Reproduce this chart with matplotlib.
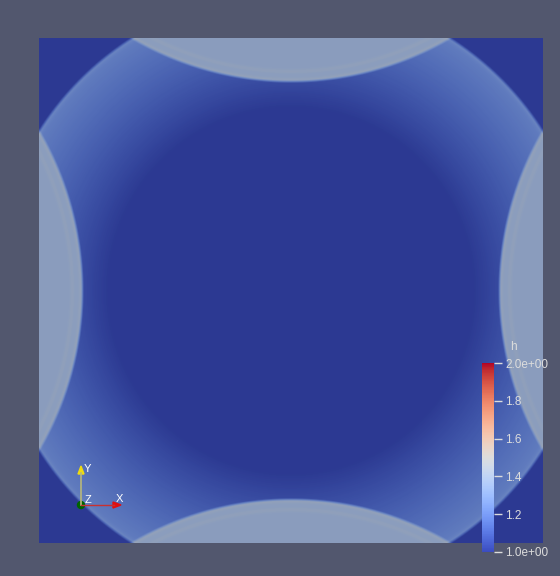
import numpy as np
import matplotlib.pyplot as plt
from matplotlib.colors import Normalize
from matplotlib.cm import ScalarMappable
from matplotlib.patches import Rectangle, Circle, Polygon

# wave field parameters (domain is [-1, 1] x [-1, 1])
front_radius = 1.183      # radius of the main expanding front
inner_radius = 0.72       # inside this radius the surface is back at rest
wall_radius = 1.252       # radius of the fronts coming back from the walls
wall_offset = 2.081       # distance of their centres from the middle
h_rest = 1.0
h_front = 1.22            # height just behind the main front
h_cross = 1.37            # height where main and returning fronts overlap
wall_dirs = [(1, 0), (-1, 0), (0, 1), (0, -1)]

# colour bar
h_min, h_max = 1.0, 2.0
cbar_ticks = [1.0, 1.2, 1.4, 1.6, 1.8, 2.0]
cbar_labels = ["1.0e+00", "1.2", "1.4", "1.6", "1.8", "2.0e+00"]

bg = "#52576e"
txt = "#dcdcdc"

n = 700
xs = np.linspace(-1, 1, n)
X, Y = np.meshgrid(xs, xs)
edge = 0.012

def inside(r, radius):
    return np.clip((radius - r) / edge + 0.5, 0, 1)

r0 = np.hypot(X, Y)
s0 = inside(r0, front_radius)
s_wall = np.zeros_like(X)
d_wall = np.full_like(X, 10.0)
d_inner = np.full_like(X, 10.0)
for dx, dy in wall_dirs:
    rw = np.hypot(X - dx * wall_offset, Y - dy * wall_offset)
    s_wall = np.maximum(s_wall, inside(rw, wall_radius))
    d_wall = np.minimum(d_wall, np.abs(rw - wall_radius))
    d_inner = np.minimum(d_inner, np.abs(rw - (wall_radius - 0.04)))

lens = s0 * s_wall
ramp = np.clip((r0 - inner_radius) / (front_radius - inner_radius), 0, 1)
h = h_rest + s0 * (1 - s_wall) * (h_front - h_rest) * ramp + lens * (h_cross - h_rest)
# thin crests at the fronts
h += 0.05 * lens * np.exp(-(d_wall / 0.012) ** 2)
h += 0.025 * lens * np.exp(-(d_inner / 0.008) ** 2)
h += 0.04 * s0 * np.exp(-((r0 - front_radius) / 0.012) ** 2)

fig = plt.figure(figsize=(5.6, 5.76), dpi=100)
fig.patch.set_facecolor(bg)

W, H = 560, 576
ax = fig.add_axes([39 / W, 1 - 543 / H, 504 / W, 505 / H])
ax.imshow(h, cmap="coolwarm", vmin=h_min, vmax=h_max, origin="lower",
          extent=[-1, 1, -1, 1], aspect="auto", interpolation="bilinear")
# surface shading
ax.add_patch(Rectangle((-1, -1), 2, 2, color="black", alpha=0.24, lw=0))
ax.set_xlim(-1, 1)
ax.set_ylim(-1, 1)
ax.axis("off")

# orientation triad, in pixel coordinates
ov = fig.add_axes([0, 0, 1, 1])
ov.set_xlim(0, W)
ov.set_ylim(H, 0)
ov.axis("off")
ox, oy = 81, 505
ov.plot([ox, ox], [oy, 473], color="#b8b87a", lw=1.2)
ov.add_patch(Polygon([[ox - 3, 474], [ox + 3, 474], [ox, 466]], closed=True, color="#f0dc10"))
ov.plot([ox, 114], [oy, oy], color="#c83030", lw=1.0)
ov.add_patch(Polygon([[113, oy - 3], [113, oy + 3], [121, oy]], closed=True, color="#e01010"))
ov.add_patch(Circle((ox, oy), 3.5, color="#006400"))
ov.text(84, 469, "Y", color="white", fontsize=8, family="Liberation Sans", va="center")
ov.text(85, 500, "Z", color="white", fontsize=8, family="Liberation Sans", va="center")
ov.text(116, 499, "X", color="white", fontsize=8, family="Liberation Sans", va="center")

# colour bar
cax = fig.add_axes([482 / W, 1 - 552 / H, 12 / W, 189 / H])
sm = ScalarMappable(norm=Normalize(h_min, h_max), cmap="coolwarm")
cb = fig.colorbar(sm, cax=cax, ticks=cbar_ticks)
cb.outline.set_visible(False)
cb.ax.set_yticklabels(cbar_labels)
cb.ax.tick_params(colors=txt, length=6, width=1, pad=2, labelsize=8.5)
for lab in cb.ax.get_yticklabels():
    lab.set_family("Liberation Sans")
    lab.set_color(txt)
fig.text(513 / W, 1 - 347 / H, "h", color=txt, fontsize=8.5,
         family="Liberation Sans", ha="center", va="center")

fig.savefig("out.png", dpi=100, facecolor=bg)
